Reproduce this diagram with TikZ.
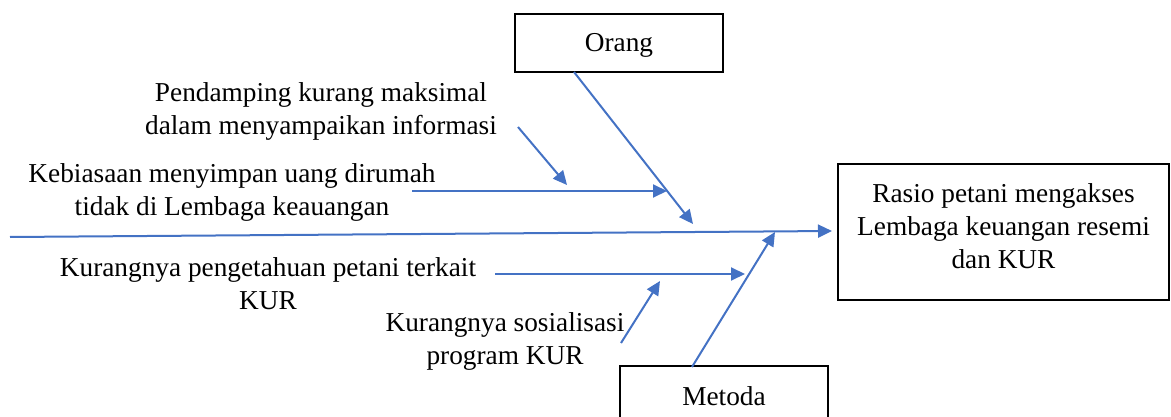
\documentclass[tikz,border=0pt]{standalone}
\usepackage{fontspec}
\setmainfont{Liberation Serif}
\usetikzlibrary{arrows.meta}
\definecolor{fishblue}{HTML}{4472C4}
\begin{document}
\begin{tikzpicture}[x=1pt,y=-1pt,
  every node/.style={font=\fontsize{27.3}{33}\selectfont, inner sep=0pt, align=center},
  box/.style={draw=black, line width=2pt, minimum width=#1},
  arr/.style={draw=fishblue, line width=2pt, -{Triangle[length=14pt,width=13pt]}},
  bone/.style={draw=fishblue, line width=2pt}]
\useasboundingbox (0,0) rectangle (1171,417);
% boxes
\node[box=208pt, minimum height=58pt] (orang) at (619,43) {};
\node at (619,45) {Orang};
\node[box=208pt, minimum height=80pt] (metoda) at (724,406) {};
\node at (724,396) {Metoda};
\node[box=331pt, minimum height=135pt] (result) at (1003.5,232) {};
\node at (1003.5,226) {Rasio petani mengakses\\Lembaga keuangan resemi\\dan KUR};
% labels
\node (pend) at (321,111) {Pendamping kurang maksimal\\dalam menyampaikan informasi};
\node (kebi) at (232,192) {Kebiasaan menyimpan uang dirumah\\tidak di Lembaga keauangan};
\node (peng) at (268,284) {Kurangnya pengetahuan petani terkait\\KUR};
\node (sosi) at (505,341) {Kurangnya sosialisasi\\program KUR};
% coordinates
\coordinate (spineS) at (10,237);
\coordinate (spineE) at (832,231);
\coordinate (oS) at (574,72);
\coordinate (oE) at (693,224);
\coordinate (mS) at (692,367);
\coordinate (mE) at (775,232);
\coordinate (kS) at (412,191);
\coordinate (kE) at (667,191);
\coordinate (pS) at (518,127);
\coordinate (pE) at (567,185);
\coordinate (gS) at (495,274);
\coordinate (gE) at (745,274);
\coordinate (sS) at (621,343);
\coordinate (sE) at (660,281);
% arrows
\draw[arr] (spineS) -- (spineE);
\draw[arr] (oS) -- (oE);
\draw[arr] (mS) -- (mE);
\draw[arr] (kS) -- (kE);
\draw[arr] (pS) -- (pE);
\draw[arr] (gS) -- (gE);
\draw[arr] (sS) -- (sE);
\end{tikzpicture}
\end{document}
